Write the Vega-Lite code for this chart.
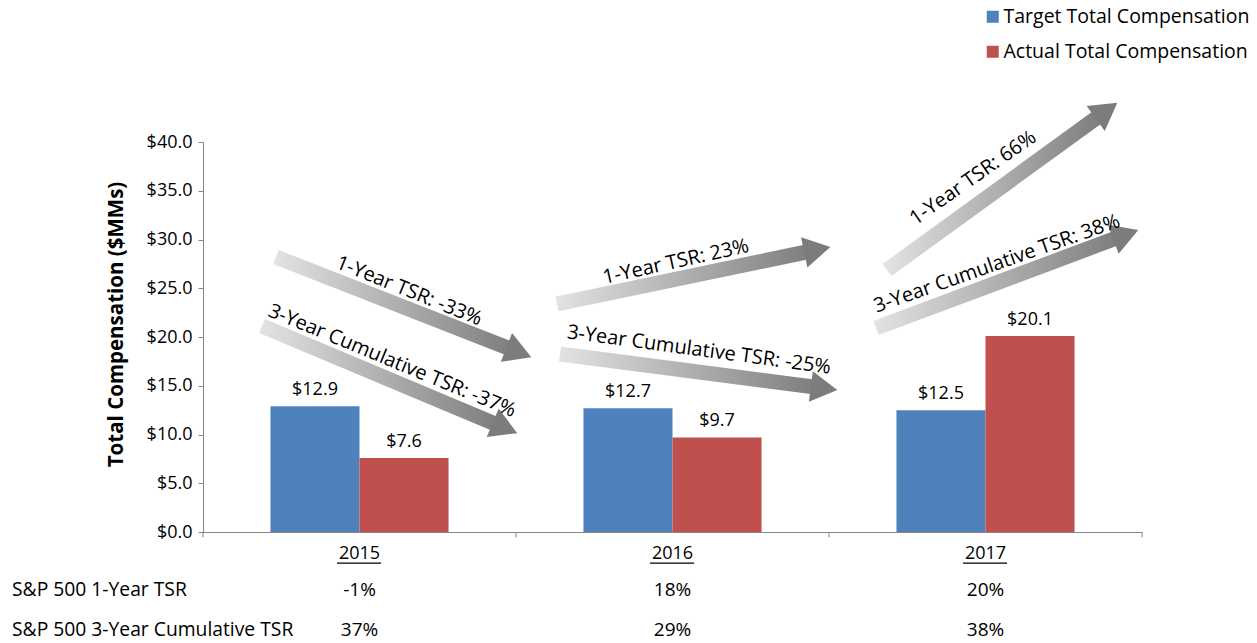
{
  "$schema": "https://vega.github.io/schema/vega-lite/v6.json",
  "autosize": "none",
  "width": 939,
  "height": 390,
  "padding": {"left": 203, "top": 142, "right": 115, "bottom": 111},
  "config": {
    "font": "Open Sans",
    "view": {"stroke": null},
    "text": {"font": "Open Sans", "color": "#000000"}
  },
  "resolve": {"scale": {"x": "independent"}},
  "layer": [
    {
      "data": {
        "values": [
          {"year": "2015", "series": "Target Total Compensation", "value": 12.9},
          {"year": "2015", "series": "Actual Total Compensation", "value": 7.6},
          {"year": "2016", "series": "Target Total Compensation", "value": 12.7},
          {"year": "2016", "series": "Actual Total Compensation", "value": 9.7},
          {"year": "2017", "series": "Target Total Compensation", "value": 12.5},
          {"year": "2017", "series": "Actual Total Compensation", "value": 20.1}
        ]
      },
      "encoding": {
        "x": {
          "field": "year", "type": "nominal",
          "scale": {"paddingInner": 0.431, "paddingOuter": 0.2155},
          "axis": {
            "title": null, "labelAngle": 0, "ticks": false,
            "domainColor": "#868686",
            "labelFontSize": 18, "labelPadding": 12, "labelColor": "#000000", "labelFont": "Open Sans"
          }
        },
        "xOffset": {
          "field": "series", "type": "nominal",
          "sort": ["Target Total Compensation", "Actual Total Compensation"],
          "scale": {"paddingInner": 0, "paddingOuter": 0}
        },
        "y": {
          "field": "value", "type": "quantitative",
          "title": "Total Compensation ($MMs)",
          "scale": {"domain": [0, 40], "nice": false, "zero": true},
          "axis": {
            "values": [0, 5, 10, 15, 20, 25, 30, 35, 40], "format": "$.1f", "grid": false,
            "domainColor": "#868686", "tickColor": "#868686", "tickSize": 5,
            "labelFontSize": 18, "labelColor": "#000000", "labelPadding": 6, "labelFont": "Open Sans",
            "titleFontSize": 20.5, "titleFontWeight": "bold", "titleY": 182,
            "titleColor": "#000000", "titlePadding": 20, "titleFont": "Open Sans"
          }
        }
      },
      "layer": [
        {
          "mark": {"type": "bar"},
          "encoding": {
            "color": {
              "field": "series", "type": "nominal",
              "scale": {"domain": ["Target Total Compensation", "Actual Total Compensation"], "range": ["#4f81bd", "#c0504d"]},
              "legend": {
                "orient": "none", "legendX": 780, "legendY": -135, "title": null,
                "symbolType": "square", "symbolSize": 144, "symbolStrokeWidth": 0,
                "labelFontSize": 19.5, "labelColor": "#000000", "labelFont": "Open Sans",
                "rowPadding": 14, "labelOffset": 1, "labelLimit": 400
              }
            }
          }
        },
        {
          "mark": {"type": "text", "baseline": "bottom", "dy": -7, "fontSize": 18},
          "encoding": {"text": {"field": "value", "type": "quantitative", "format": "$.1f"}}
        }
      ]
    },
    {
      "layer": [
        {
          "data": {
            "values": [
              {"arrow": "A", "px": 0.2332, "py": 28.205},
              {"arrow": "A", "px": 1.0003, "py": 18.544},
              {"arrow": "B", "px": 0.1885, "py": 21.128},
              {"arrow": "B", "px": 0.9559, "py": 10.790},
              {"arrow": "C", "px": 1.1310, "py": 23.385},
              {"arrow": "C", "px": 1.9530, "py": 28.892},
              {"arrow": "D", "px": 1.1406, "py": 18.256},
              {"arrow": "D", "px": 1.9748, "py": 14.779},
              {"arrow": "E", "px": 2.1853, "py": 26.872},
              {"arrow": "E", "px": 2.8789, "py": 43.036},
              {"arrow": "F", "px": 2.1502, "py": 20.923},
              {"arrow": "F", "px": 2.9393, "py": 30.400}
            ]
          },
          "mark": {
            "type": "line", "strokeWidth": 15, "strokeCap": "butt",
            "stroke": {"gradient": "linear", "x1": 0, "y1": 0, "x2": 1, "y2": 0,
              "stops": [{"offset": 0, "color": "#e2e2e2"}, {"offset": 1, "color": "#7c7c7c"}]}
          },
          "encoding": {
            "x": {"field": "px", "type": "quantitative", "scale": {"domain": [0, 3], "nice": false, "zero": false}, "axis": null},
            "y": {"field": "py", "type": "quantitative", "title": "Total Compensation ($MMs)", "scale": {"domain": [0, 40], "nice": false}},
            "detail": {"field": "arrow", "type": "nominal"}
          }
        },
        {
          "data": {
            "values": [
              {"arrow": "A", "px": 1.0093, "py": 18.431, "angle": 21.4},
              {"arrow": "B", "px": 0.9649, "py": 10.667, "angle": 22.8},
              {"arrow": "C", "px": 1.9626, "py": 28.954, "angle": -11.8},
              {"arrow": "D", "px": 1.9843, "py": 14.738, "angle": 7.4},
              {"arrow": "E", "px": 2.8866, "py": 43.221, "angle": -36.0},
              {"arrow": "F", "px": 2.9482, "py": 30.503, "angle": -20.5}
            ]
          },
          "mark": {"type": "point", "shape": "triangle-right", "filled": true, "size": 950, "color": "#7c7c7c", "opacity": 1},
          "encoding": {
            "x": {"field": "px", "type": "quantitative", "scale": {"domain": [0, 3], "nice": false, "zero": false}, "axis": null},
            "y": {"field": "py", "type": "quantitative", "title": "Total Compensation ($MMs)", "scale": {"domain": [0, 40], "nice": false}},
            "angle": {"field": "angle", "type": "quantitative", "scale": null}
          }
        },
        {
          "data": {
            "values": [
              {"label": "1-Year TSR: -33%", "px": 0.6581, "py": 24.718, "angle": 22},
              {"label": "3-Year Cumulative TSR: -37%", "px": 0.6038, "py": 17.538, "angle": 22.5},
              {"label": "1-Year TSR: 23%", "px": 1.5112, "py": 27.692, "angle": -12.5},
              {"label": "3-Year Cumulative TSR: -25%", "px": 1.5847, "py": 18.667, "angle": 7.7},
              {"label": "1-Year TSR: 66%", "px": 2.4601, "py": 36.308, "angle": -35},
              {"label": "3-Year Cumulative TSR: 38%", "px": 2.5367, "py": 27.5, "angle": -19.5}
            ]
          },
          "mark": {"type": "text", "fontSize": 20, "align": "center", "baseline": "middle"},
          "encoding": {
            "x": {"field": "px", "type": "quantitative", "scale": {"domain": [0, 3], "nice": false, "zero": false}, "axis": null},
            "y": {"field": "py", "type": "quantitative", "title": "Total Compensation ($MMs)", "scale": {"domain": [0, 40], "nice": false}},
            "angle": {"field": "angle", "type": "quantitative", "scale": null},
            "text": {"field": "label", "type": "nominal"}
          }
        },
        {
          "data": {
            "values": [
              {"px": 0, "py": 0, "py2": -0.55},
              {"px": 1, "py": 0, "py2": -0.55},
              {"px": 2, "py": 0, "py2": -0.55},
              {"px": 3, "py": 0, "py2": -0.55}
            ]
          },
          "mark": {"type": "rule", "color": "#868686", "strokeWidth": 1},
          "encoding": {
            "x": {"field": "px", "type": "quantitative", "scale": {"domain": [0, 3], "nice": false, "zero": false}, "axis": null},
            "y": {"field": "py", "type": "quantitative", "title": "Total Compensation ($MMs)", "scale": {"domain": [0, 40], "nice": false}},
            "y2": {"field": "py2"}
          }
        },
        {
          "data": {
            "values": [
              {"px": 0.428, "px2": 0.569, "py": -3.2},
              {"px": 1.428, "px2": 1.569, "py": -3.2},
              {"px": 2.428, "px2": 2.569, "py": -3.2}
            ]
          },
          "mark": {"type": "rule", "color": "#000000", "strokeWidth": 1.2},
          "encoding": {
            "x": {"field": "px", "type": "quantitative", "scale": {"domain": [0, 3], "nice": false, "zero": false}, "axis": null},
            "x2": {"field": "px2"},
            "y": {"field": "py", "type": "quantitative", "title": "Total Compensation ($MMs)", "scale": {"domain": [0, 40], "nice": false}}
          }
        },
        {
          "data": {
            "values": [
              {"label": "S&P 500 1-Year TSR", "px": -0.6102, "py": -5.95},
              {"label": "S&P 500 3-Year Cumulative TSR", "px": -0.6102, "py": -10.05}
            ]
          },
          "mark": {"type": "text", "fontSize": 19.3, "align": "left", "baseline": "middle"},
          "encoding": {
            "x": {"field": "px", "type": "quantitative", "scale": {"domain": [0, 3], "nice": false, "zero": false}, "axis": null},
            "y": {"field": "py", "type": "quantitative", "title": "Total Compensation ($MMs)", "scale": {"domain": [0, 40], "nice": false}},
            "text": {"field": "label", "type": "nominal"}
          }
        },
        {
          "data": {
            "values": [
              {"label": "-1%", "px": 0.5, "py": -5.95},
              {"label": "18%", "px": 1.5, "py": -5.95},
              {"label": "20%", "px": 2.5, "py": -5.95},
              {"label": "37%", "px": 0.5, "py": -10.05},
              {"label": "29%", "px": 1.5, "py": -10.05},
              {"label": "38%", "px": 2.5, "py": -10.05}
            ]
          },
          "mark": {"type": "text", "fontSize": 19, "align": "center", "baseline": "middle"},
          "encoding": {
            "x": {"field": "px", "type": "quantitative", "scale": {"domain": [0, 3], "nice": false, "zero": false}, "axis": null},
            "y": {"field": "py", "type": "quantitative", "title": "Total Compensation ($MMs)", "scale": {"domain": [0, 40], "nice": false}},
            "text": {"field": "label", "type": "nominal"}
          }
        }
      ]
    }
  ]
}
